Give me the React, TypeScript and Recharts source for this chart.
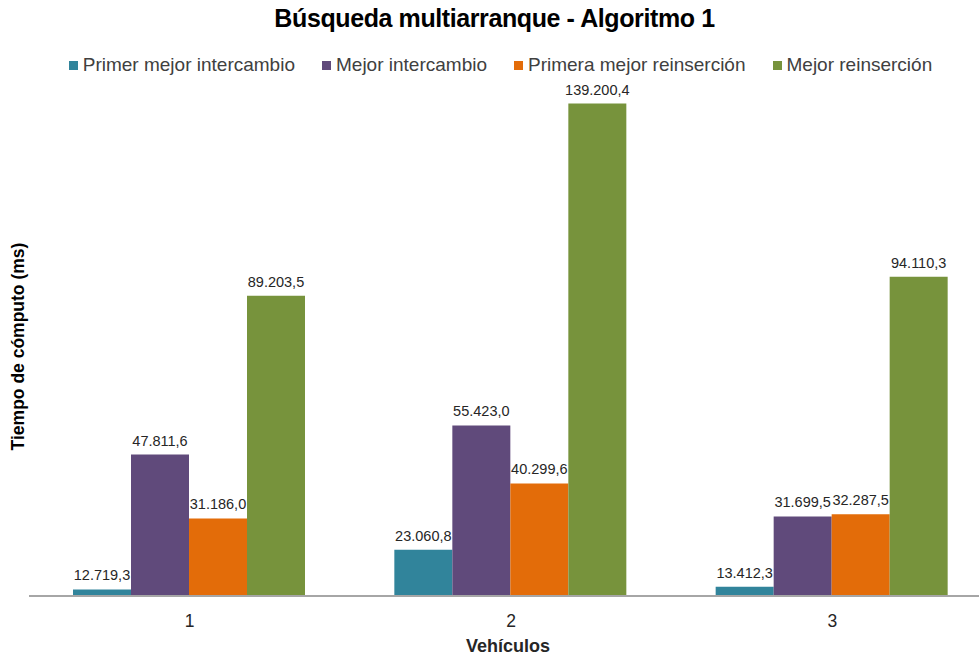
import { BarChart, Bar, XAxis, YAxis, LabelList } from "recharts";

const vehicles = ["1", "2", "3"];
const primerMejorIntercambio = [12719.3, 23060.8, 13412.3];
const mejorIntercambio = [47811.6, 55423.0, 31699.5];
const primeraMejorReinsercion = [31186.0, 40299.6, 32287.5];
const mejorReinsercion = [89203.5, 139200.4, 94110.3];

const seriesNames = ["Primer mejor intercambio", "Mejor intercambio", "Primera mejor reinserción", "Mejor reinserción"];
const seriesColors = ["#31849B", "#604A7B", "#E36C09", "#77933C"];

const data = vehicles.map((v, i) => ({
  name: v,
  s0: primerMejorIntercambio[i],
  s1: mejorIntercambio[i],
  s2: primeraMejorReinsercion[i],
  s3: mejorReinsercion[i],
}));

const fmt = (v: any) =>
  Number(v).toLocaleString("de-DE", { minimumFractionDigits: 1, maximumFractionDigits: 1 });

const FONT = "'Liberation Sans', Arial, sans-serif";

function LegendRow() {
  return (
    <div
      style={{
        position: "absolute",
        top: 54,
        left: 0,
        width: 979,
        display: "flex",
        justifyContent: "center",
        gap: 27,
        fontFamily: FONT,
        fontSize: 19,
        color: "#404040",
        paddingLeft: 22,
        boxSizing: "border-box",
      }}
    >
      {seriesNames.map((n, i) => (
        <span key={n} style={{ display: "flex", alignItems: "center" }}>
          <span style={{ width: 9, height: 9, background: seriesColors[i], marginRight: 5, display: "inline-block" }} />
          {n}
        </span>
      ))}
    </div>
  );
}

export default function App() {
  return (
    <div style={{ position: "absolute", left: 0, top: 0, width: 979, height: 656, background: "#fff", overflow: "hidden" }}>
      <div
        style={{
          position: "absolute",
          top: 4,
          left: 0,
          width: 979,
          textAlign: "center",
          fontFamily: FONT,
          fontWeight: "bold",
          fontSize: 25,
          letterSpacing: -0.4,
          color: "#000",
          paddingLeft: 10,
          boxSizing: "border-box",
        }}
      >
        Búsqueda multiarranque - Algoritmo 1
      </div>
      <LegendRow />
      <BarChart
        width={993}
        height={656}
        data={data}
        margin={{ top: 89, right: 0, left: 0, bottom: 0 }}
        barCategoryGap={44}
        barGap={0}
      >
        <XAxis
          dataKey="name"
          height={60}
          axisLine={{ stroke: "#a6a6a6", strokeWidth: 2 }}
          tickLine={false}
          tick={{ fill: "#262626", fontSize: 17.5, fontFamily: FONT }}
          tickMargin={13}
          label={{
            value: "Vehículos",
            position: "insideBottom",
            offset: 4,
            fill: "#262626",
            fontSize: 18,
            fontWeight: "bold",
            fontFamily: FONT,
            dx: -3,
          }}
        />
        <YAxis
          width={29}
          domain={[11000, 143000]}
          allowDataOverflow
          axisLine={false}
          tickLine={false}
          tick={false}
          label={{
            content: (props: any) => {
              const vb = props.viewBox || {};
              const cx = 18;
              const cy = (vb.y ?? 89) + (vb.height ?? 507) / 2 + 4;
              return (
                <text
                  x={cx}
                  y={cy}
                  transform={`rotate(-90 ${cx} ${cy})`}
                  textAnchor="middle"
                  dominantBaseline="central"
                  fill="#000"
                  fontSize={17.5}
                  fontWeight="bold"
                  fontFamily={FONT}
                >
                  Tiempo de cómputo (ms)
                </text>
              );
            },
          }}
        />
        {["s0", "s1", "s2", "s3"].map((k, i) => (
          <Bar key={k} dataKey={k} name={seriesNames[i]} fill={seriesColors[i]} isAnimationActive={false}>
            <LabelList dataKey={k} position="top" offset={9} formatter={fmt} fill="#262626" fontSize={14.5} fontFamily={FONT} />
          </Bar>
        ))}
      </BarChart>
    </div>
  );
}
